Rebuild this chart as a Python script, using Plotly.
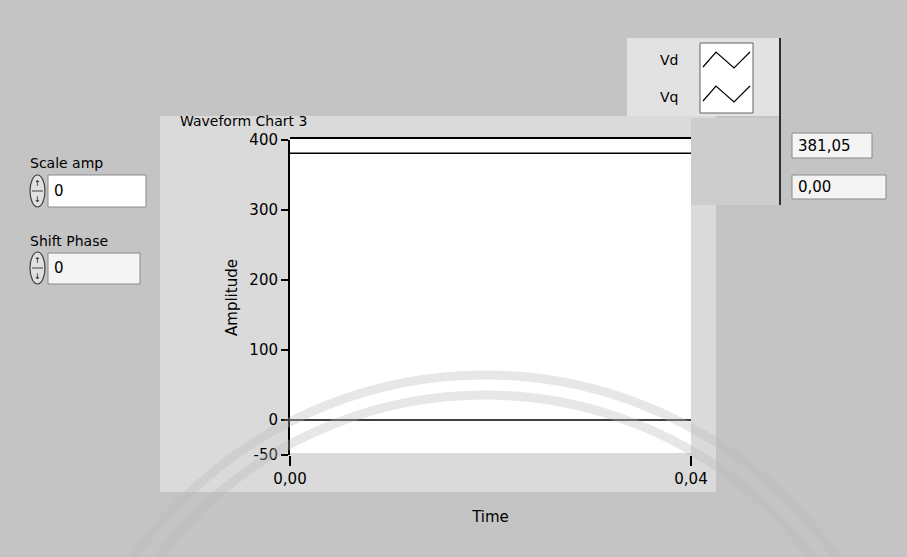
import plotly.graph_objects as go

W, H = 907, 557

# ---- data ----
time_s = [0.0, 0.04]
vd_values = [381.05, 381.05]
vq_values = [0.0, 0.0]
series_names = ["Vd", "Vq"]
y_tick_vals = [-50, 0, 100, 200, 300, 400]
y_tick_text = ["-50", "0", "100", "200", "300", "400"]
x_tick_vals = [0.0, 0.04]
x_tick_text = ["0,00", "0,04"]
display_texts = ["381,05", "0,00"]
scale_amp_value = "0"
shift_phase_value = "0"

FONT = "DejaVu Sans"

fig = go.Figure()
fig.add_trace(go.Scatter(x=time_s, y=vd_values, mode="lines", name=series_names[0],
                         line=dict(color="black", width=1.5), showlegend=False))
fig.add_trace(go.Scatter(x=time_s, y=vq_values, mode="lines", name=series_names[1],
                         line=dict(color="black", width=1.5), showlegend=False))

L, R, T, B = 290, 691, 140, 455

def px(x):
    return (x - L) / (R - L)

def py(y):
    return (B - y) / (B - T)

shapes = []
def rect(x0, y0, x1, y1, fill, line=None, lw=0, layer="below"):
    shapes.append(dict(type="rect", xref="paper", yref="paper",
                       x0=px(x0), x1=px(x1), y0=py(y1), y1=py(y0),
                       fillcolor=fill, line=dict(color=line or fill, width=lw), layer=layer))

def line(x0, y0, x1, y1, color="black", lw=1, layer="above"):
    shapes.append(dict(type="line", xref="paper", yref="paper",
                       x0=px(x0), x1=px(x1), y0=py(y0), y1=py(y1),
                       line=dict(color=color, width=lw), layer=layer))

# panel backgrounds
rect(160, 116, 716, 492, "#dadada")
rect(691, 118, 780, 205, "#cdcdcd")
rect(627, 38, 780, 116, "#e2e2e2")
line(780, 38, 780, 205, "#303030", 2, "below")
# white plotting area
rect(L, T - 2, R, B - 2, "#ffffff")
# legend icon box
rect(700, 43, 753, 113, "#ffffff", "#606060", 1, "below")
for yc in (62, 96):
    shapes.append(dict(type="path", xref="paper", yref="paper",
                       path="M {} {} L {} {} L {} {} L {} {}".format(
                           px(703), py(yc + 5), px(716), py(yc - 10),
                           px(734), py(yc + 6), px(750), py(yc - 10)),
                       line=dict(color="black", width=1.2), layer="above"))
# digital displays
rect(792, 133, 872, 158, "#f4f4f4", "#8a8a8a", 1)
rect(792, 175, 886, 199, "#f4f4f4", "#8a8a8a", 1)
# left numeric controls
rect(48, 175, 146, 207, "#ffffff", "#8a8a8a", 1)
rect(48, 253, 140, 284, "#f4f4f4", "#8a8a8a", 1)
for yc in (191, 268):
    shapes.append(dict(type="circle", xref="paper", yref="paper",
                       x0=px(30), x1=px(45), y0=py(yc + 16), y1=py(yc - 16),
                       fillcolor="#e0e0e0", line=dict(color="#404040", width=1.2), layer="below"))
    line(32, yc, 43, yc, "#404040", 1)
# watermark arcs
for r in (410, 430):
    shapes.append(dict(type="circle", xref="paper", yref="paper",
                       x0=px(485 - r), x1=px(485 + r), y0=py(805 + r), y1=py(805 - r),
                       line=dict(color="rgba(185,185,185,0.35)", width=9), layer="above"))
# plot top border
line(L, T - 2, R, T - 2, "black", 2)

ann = []
def text(x, y, s, size=15, anchor="left", angle=0, color="black"):
    ann.append(dict(x=px(x), y=py(y), xref="paper", yref="paper", text=s, showarrow=False,
                    xanchor=anchor, yanchor="middle", textangle=angle,
                    font=dict(family=FONT, size=size, color=color)))

text(178, 121, "Waveform Chart 3", 14)
text(105, 163, "Scale amp", 14, "right")
text(110, 241, "Shift Phase", 14, "right")
text(52, 191, scale_amp_value, 15)
text(52, 268, shift_phase_value, 15)
text(37, 183, "↑", 8, "center")
text(37, 199, "↓", 8, "center")
text(37, 260, "↑", 8, "center")
text(37, 276, "↓", 8, "center")
text(796, 146, display_texts[0], 15)
text(796, 187, display_texts[1], 15)
text(680, 60, series_names[0], 14, "right")
text(680, 97, series_names[1], 14, "right")

fig.update_layout(
    width=W, height=H,
    margin=dict(l=L, r=W - R, t=T, b=H - B),
    paper_bgcolor="#c4c4c4",
    plot_bgcolor="#ffffff",
    shapes=shapes,
    annotations=ann,
    font=dict(family=FONT, size=15, color="black"),
    xaxis=dict(range=[0, 0.04], tickvals=x_tick_vals, ticktext=x_tick_text,
               showgrid=False, zeroline=False, showline=False,
               ticks="outside", ticklen=10, tickcolor="black", tickwidth=1.5,
               tickfont=dict(family=FONT, size=15),
               title=dict(text="Time", font=dict(family=FONT, size=15), standoff=24)),
    yaxis=dict(range=[-50, 400], tickvals=y_tick_vals, ticktext=y_tick_text,
               showgrid=False, zeroline=False, showline=True, linecolor="black", linewidth=2,
               ticks="outside", ticklen=7, tickcolor="black", tickwidth=2,
               tickfont=dict(family=FONT, size=15),
               title=dict(text="Amplitude", font=dict(family=FONT, size=15), standoff=8)),
)

fig.write_html("out.html", config={"displayModeBar": False},
               post_script="document.body.style.margin='0';")
